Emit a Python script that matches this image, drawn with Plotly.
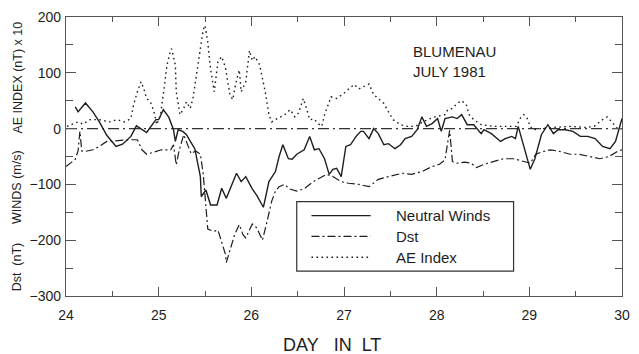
import plotly.graph_objects as go

# ---------------- data ----------------
nw_day = [24.10, 24.13, 24.21, 24.29, 24.36, 24.44, 24.54, 24.61, 24.70, 24.76,
          24.87, 24.97, 25.00, 25.05, 25.11, 25.16, 25.18, 25.21, 25.26, 25.30,
          25.35, 25.39, 25.45, 25.46, 25.51, 25.56, 25.63, 25.68, 25.73, 25.79,
          25.84, 25.89, 25.94, 26.01, 26.06, 26.13, 26.19, 26.26, 26.30, 26.34,
          26.40, 26.44, 26.49, 26.57, 26.63, 26.68, 26.73, 26.79, 26.84, 26.88,
          26.92, 26.97, 27.02, 27.07, 27.13, 27.18, 27.21, 27.27, 27.32, 27.37,
          27.43, 27.48, 27.55, 27.61, 27.66, 27.73, 27.79, 27.84, 27.89, 27.95,
          28.01, 28.05, 28.09, 28.17, 28.22, 28.27, 28.33, 28.40, 28.48, 28.51,
          28.59, 28.69, 28.74, 28.81, 28.85, 28.88, 28.94, 29.01, 29.06, 29.13,
          29.20, 29.26, 29.31, 29.39, 29.47, 29.55, 29.63, 29.71, 29.79, 29.87,
          29.93, 30.00]
nw_val = [39, 30, 46, 30, 12, -12, -32, -28, -14, 5,
          -7, 16, 16, 34, 20, -2, -23, -2, -5, -11,
          -25, -36, -86, -122, -110, -137, -137, -107, -125, -100,
          -80, -95, -86, -108, -120, -141, -95, -77, -50, -29,
          -54, -55, -46, -38, -14, -38, -36, -54, -82, -73,
          -71, -86, -32, -29, -14, -5, -5, -18, 0, -9,
          -29, -27, -36, -29, -18, -14, -2, 21, 4, 9,
          18, -5, 18, 21, 18, 25, 7, 7, -9, -2,
          -9, -23, -18, -14, -18, 4, -32, -73, -54, -11,
          7, -9, -2, -2, -5, -14, -14, -18, -32, -36,
          -23, 18]

dst_day = [24.00, 24.10, 24.13, 24.15, 24.17, 24.20, 24.29, 24.36, 24.44, 24.55,
           24.68, 24.77, 24.82, 24.87, 24.97, 25.03, 25.13, 25.16, 25.19, 25.22,
           25.27, 25.30, 25.35, 25.40, 25.45, 25.48, 25.50, 25.51, 25.53, 25.59,
           25.64, 25.67, 25.72, 25.73, 25.78, 25.82, 25.87, 25.91, 25.94, 25.97,
           26.01, 26.06, 26.12, 26.17, 26.22, 26.26, 26.30, 26.36, 26.41, 26.49,
           26.57, 26.67, 26.81, 26.88, 26.97, 27.05, 27.16, 27.27, 27.37, 27.48,
           27.63, 27.73, 27.84, 27.95, 28.03, 28.09, 28.12, 28.14, 28.16, 28.17,
           28.22, 28.30, 28.37, 28.43, 28.51, 28.62, 28.72, 28.83, 28.94, 29.01,
           29.07, 29.15, 29.23, 29.33, 29.44, 29.54, 29.65, 29.76, 29.86, 29.95,
           30.00]
dst_val = [-68, -55, -40, -5, -40, -41, -38, -32, -23, -21,
           -20, -20, -38, -46, -41, -38, -38, -29, -65, -40,
           -11, -25, -45, -40, -46, -80, -116, -139, -180, -184,
           -182, -198, -225, -240, -211, -190, -172, -190, -196, -185,
           -171, -178, -200, -166, -130, -112, -104, -100, -108, -112,
           -108, -95, -82, -86, -95, -98, -100, -104, -91, -86,
           -80, -82, -77, -68, -64, -56, -23, -3, -40, -59,
           -62, -60, -62, -70, -64, -59, -54, -54, -59, -62,
           -46, -41, -38, -41, -46, -46, -50, -54, -50, -41,
           -38]

ae_day = [24.01, 24.13, 24.18, 24.26, 24.36, 24.47, 24.55, 24.63, 24.70, 24.73,
          24.77, 24.81, 24.84, 24.87, 24.91, 24.95, 24.98, 25.02, 25.05, 25.09,
          25.13, 25.14, 25.18, 25.19, 25.23, 25.27, 25.30, 25.34, 25.37, 25.40,
          25.45, 25.48, 25.50, 25.53, 25.56, 25.60, 25.64, 25.68, 25.72, 25.77,
          25.80, 25.83, 25.87, 25.89, 25.94, 25.98, 26.01, 26.04, 26.09, 26.12,
          26.15, 26.19, 26.22, 26.28, 26.36, 26.42, 26.47, 26.51, 26.56, 26.60,
          26.63, 26.68, 26.72, 26.76, 26.79, 26.83, 26.86, 26.92, 26.99, 27.05,
          27.11, 27.16, 27.21, 27.27, 27.32, 27.37, 27.43, 27.48, 27.53, 27.61,
          27.68, 27.77, 27.85, 27.93, 27.98, 28.09, 28.12, 28.17, 28.22, 28.27,
          28.32, 28.35, 28.40, 28.48, 28.62, 28.76, 28.86, 28.90, 28.94, 28.97,
          29.01, 29.04, 29.12, 29.26, 29.44, 29.61, 29.70, 29.79, 29.84, 29.89,
          29.95, 30.00]
ae_val = [4, 12, 8, 16, 16, 12, 16, 12, 18, 43,
          66, 84, 71, 54, 48, 30, 7, 25, 61, 114,
          141, 143, 114, 66, 25, 36, 48, 36, 54, 89,
          150, 177, 185, 155, 107, 66, 120, 129, 110, 60,
          52, 80, 105, 66, 84, 140, 122, 129, 114, 89,
          66, 25, 12, 18, 25, 34, 21, 28, 54, 34,
          16, 17, 9, 4, 25, 43, 57, 54, 62, 71,
          79, 71, 75, 80, 61, 54, 45, 30, 16, 7,
          4, 4, 12, 18, 21, 25, 34, 36, 45, 50,
          43, 25, 16, 7, 4, 4, 4, 18, 25, 21,
          4, -2, 0, 2, 4, 2, 4, 16, 21, 12,
          0, 0]

x_ticks = [24, 25, 26, 27, 28, 29, 30]
y_ticks = [-300, -200, -100, 0, 100, 200]

series_names = ["Neutral Winds", "Dst", "AE Index"]

# ---------------- styles ----------------
FONT = "Liberation Sans, Arial, Helvetica, sans-serif"
INK = "#1e1e1e"
AX = "#555555"
DASH_DST = "8px,3px,2px,3px"
DASH_ZERO = "11px,4px,2px,4px"
DASH_AE = "1.6px,3.4px"

fig = go.Figure()
fig.add_trace(go.Scatter(x=nw_day, y=nw_val, mode="lines", name=series_names[0],
                         line=dict(color=INK, width=1.4)))
fig.add_trace(go.Scatter(x=dst_day, y=dst_val, mode="lines", name=series_names[1],
                         line=dict(color=INK, width=1.2, dash=DASH_DST)))
fig.add_trace(go.Scatter(x=ae_day, y=ae_val, mode="lines", name=series_names[2],
                         line=dict(color=INK, width=1.4, dash=DASH_AE)))

# zero reference line
fig.add_shape(type="line", xref="x", yref="y", x0=24, x1=30, y0=0, y1=0,
              line=dict(color="#333", width=1.1, dash=DASH_ZERO), layer="below")

fig.update_layout(
    width=639, height=354,
    margin=dict(l=66, r=9, t=15, b=58),
    paper_bgcolor="white", plot_bgcolor="white",
    showlegend=False,
    font=dict(family=FONT, color=INK, size=14),
    xaxis=dict(range=[24, 30], tickvals=x_ticks, ticks="inside", ticklen=9,
               tickwidth=1.2, tickcolor=AX, showline=True, linecolor=AX,
               linewidth=1.4, mirror="ticks", showgrid=False, zeroline=False,
               tickfont=dict(size=14, family=FONT, color=INK),
               ticklabelstandoff=6,
               minor=dict(dtick=0.5, ticks="inside", ticklen=5, tickwidth=1,
                          tickcolor=AX, showgrid=False)),
    yaxis=dict(range=[-300, 200], tickvals=y_ticks, ticks="inside", ticklen=10,
               tickwidth=1.2, tickcolor=AX, showline=True, linecolor=AX,
               linewidth=1.4, mirror="ticks", showgrid=False, zeroline=False,
               tickfont=dict(size=14, family=FONT, color=INK),
               ticklabelstandoff=1,
               minor=dict(dtick=50, ticks="inside", ticklen=7, tickwidth=1,
                          tickcolor=AX, showgrid=False)),
)

# rotated y-axis title pieces
ylab_font = dict(family=FONT, size=12.5, color=INK)
for txt, yp in [("AE INDEX (nT) x 10", 0.783), ("WINDS (m/s)", 0.391), ("Dst  (nT)", 0.103)]:
    fig.add_annotation(text=txt, xref="paper", yref="paper", x=-0.088, y=yp,
                       textangle=-90, showarrow=False, xanchor="center", yanchor="middle",
                       font=ylab_font)

# x-axis title
fig.add_annotation(text="DAY\u00a0\u00a0\u00a0IN\u00a0\u00a0LT", xref="paper", yref="paper",
                   x=0.479, y=-0.174, showarrow=False, xanchor="center", yanchor="middle",
                   font=dict(family=FONT, size=18, color=INK))

# station label
fig.add_annotation(text="BLUMENAU<br>JULY 1981", xref="paper", yref="paper", x=0.62, y=0.915,
                   showarrow=False, xanchor="left", yanchor="top", align="left",
                   font=dict(family=FONT, size=15, color=INK))

# legend box (manual, to match the original layout)
fig.add_shape(type="rect", xref="paper", yref="paper", x0=0.415, x1=0.805, y0=0.089, y1=0.338,
              line=dict(color="#333", width=1.2), fillcolor="white", layer="above")
leg_rows = [0.288, 0.2135, 0.139]
leg_styles = [dict(color=INK, width=1.4), dict(color=INK, width=1.2, dash=DASH_DST),
              dict(color=INK, width=1.4, dash=DASH_AE)]
for name, yp, st in zip(series_names, leg_rows, leg_styles):
    fig.add_shape(type="line", xref="paper", yref="paper", x0=0.4415, x1=0.548, y0=yp, y1=yp,
                  line=st, layer="above")
    fig.add_annotation(text=name, xref="paper", yref="paper", x=0.59, y=yp,
                       showarrow=False, xanchor="left", yanchor="middle",
                       font=dict(family=FONT, size=15, color=INK))

fig.write_html("out.html", config={"displayModeBar": False},
               post_script="document.body.style.margin='0px';")
